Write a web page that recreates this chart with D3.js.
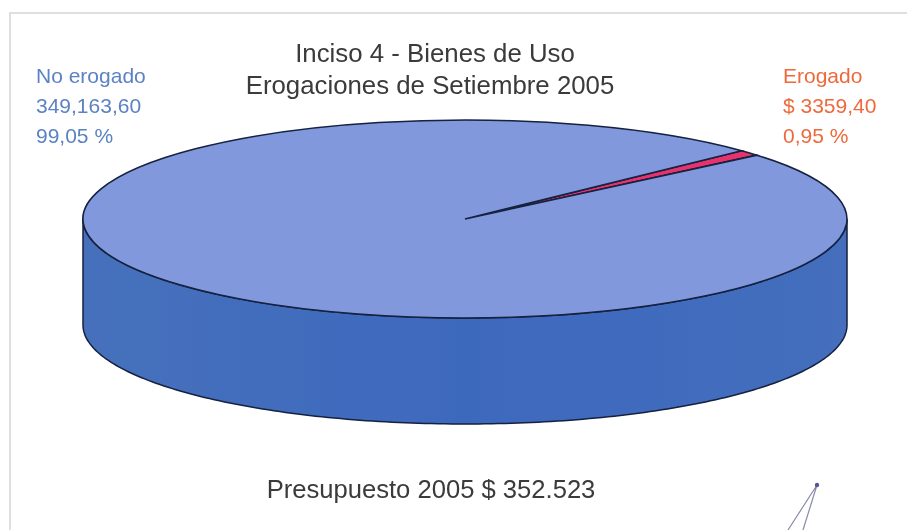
<!DOCTYPE html>
<html>
<head>
<meta charset="utf-8">
<script src="https://cdn.jsdelivr.net/npm/d3@7"></script>
<style>
  html, body { margin: 0; padding: 0; background: #fff; }
  svg { display: block; }
  text { font-family: "Liberation Sans", Arial, sans-serif; }
</style>
</head>
<body>
<svg id="svg1" width="907" height="530"></svg>
<script>
'use strict'

const categories = ["Erogado", "No erogado"];
const values = [3359.40, 349163.60];
const titleFirst = ["Inciso 4 - Bienes de Uso"];
const titleSecond = ["Erogaciones de Setiembre 2005"];
const erogadoLabels = ["Erogado", "$ 3359,40", "0,95 %"];
const noErogadoLabels = ["No erogado", "349,163,60", "99,05 %"];
const footer = ["Presupuesto 2005 $ 352.523"];
const colors = ["#e8336e", "#8298dc"];

const width = 907, height = 530;
const cx = 465, cy = 219, rx = 382, ry = 99, depth = 106;
// where the small slice starts, clockwise from the top of the ellipse
const startAngle = 46.4 * Math.PI / 180;

const root = d3.select("#svg1");
const defs = root.append("defs");

// the reference is a scan, everything is a little soft
defs.append("filter")
  .attr("id", "soft")
  .attr("x", "0").attr("y", "0").attr("width", "1").attr("height", "1")
  .append("feGaussianBlur")
  .attr("stdDeviation", 0.45);

const svg = root.append("g").attr("filter", "url(#soft)");

// white rect so the filter region covers the whole page
svg.append("rect")
  .attr("width", width).attr("height", height)
  .attr("fill", "#fff");

// page frame, only the top and left edges show
svg.append("path")
  .attr("d", `M10,${height} V13 H${width}`)
  .attr("fill", "none")
  .attr("stroke", "#dfdfdf")
  .attr("stroke-width", 2);

// horizontal shading of the cylinder wall
const grad = defs.append("linearGradient")
  .attr("id", "wall")
  .attr("x1", "0").attr("x2", "1").attr("y1", "0").attr("y2", "0");
grad.append("stop").attr("offset", "0").attr("stop-color", "#4670bc");
grad.append("stop").attr("offset", "0.5").attr("stop-color", "#3e69bd");
grad.append("stop").attr("offset", "1").attr("stop-color", "#446ebd");

// front half of the cylinder wall, east round to west
const wall = d3.area()
  .x(a => cx + rx * Math.sin(a))
  .y0(a => cy - ry * Math.cos(a))
  .y1(a => cy - ry * Math.cos(a) + depth);

svg.append("path")
  .attr("d", wall(d3.range(90, 270.5, 1).map(d => d * Math.PI / 180)))
  .attr("fill", "url(#wall)")
  .attr("stroke", "#14213f")
  .attr("stroke-width", 1.5);

// top of the pie, a normal d3 pie squashed into an ellipse
const pie = d3.pie()
  .sort(null)
  .startAngle(startAngle)
  .endAngle(startAngle + 2 * Math.PI);
const arc = d3.arc().innerRadius(0).outerRadius(rx);

svg.append("g")
  .attr("transform", `translate(${cx},${cy}) scale(1,${ry / rx})`)
  .selectAll("path")
  .data(pie(values))
  .enter().append("path")
    .attr("d", arc)
    .attr("fill", (d, i) => colors[i])
    .attr("stroke", "#14213f")
    .attr("stroke-width", 1.6)
    .attr("vector-effect", "non-scaling-stroke");

function textBlock(lines, x, y, lineHeight, anchor, size, fill) {
  svg.append("g").selectAll("text")
    .data(lines)
    .enter().append("text")
      .attr("x", x)
      .attr("y", (d, i) => y + i * lineHeight)
      .attr("text-anchor", anchor)
      .attr("font-size", size)
      .attr("fill", fill)
      .text(d => d);
}

textBlock(titleFirst, 435, 61.5, 0, "middle", 25.8, "#3a3a3a");
textBlock(titleSecond, 430, 93.5, 0, "middle", 25.8, "#3a3a3a");
textBlock(noErogadoLabels, 36, 83, 30, "start", 21, "#5b82c4");
textBlock(erogadoLabels, 783, 83, 30, "start", 21, "#ee6a3c");
textBlock(footer, 431, 498, 0, "middle", 25.6, "#3a3a3a");

// pen stroke at the bottom right of the scan
svg.append("path")
  .attr("d", "M788,530 L817,485 L803,530")
  .attr("fill", "none")
  .attr("stroke", "#8a8aa8")
  .attr("stroke-width", 1.2);
svg.append("circle")
  .attr("cx", 817).attr("cy", 485).attr("r", 2.2)
  .attr("fill", "#55559a");
</script>
</body>
</html>
